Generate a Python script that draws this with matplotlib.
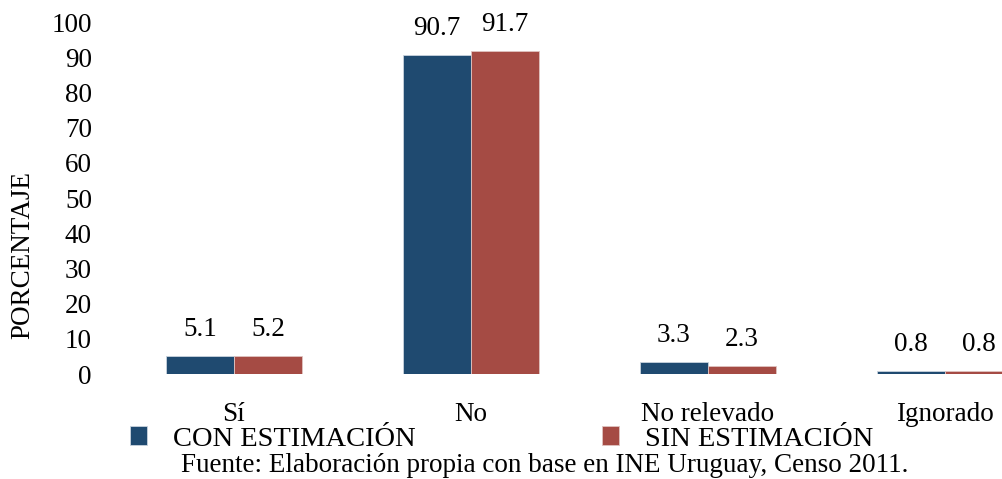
import numpy as np
import matplotlib
matplotlib.use('Agg')
import matplotlib.pyplot as plt

categories = ['Sí', 'No', 'No relevado', 'Ignorado']
conEstimacion = [5.1, 90.7, 3.3, 0.8]
sinEstimacion = [5.2, 91.7, 2.3, 0.8]
seriesNames = ['CON ESTIMACIÓN', 'SIN ESTIMACIÓN']
yTicks = np.arange(0, 101, 10)
fuente = 'Fuente: Elaboración propia con base en INE Uruguay, Censo 2011.'

navy = '#1F4A70'
red = '#A54B44'

plt.rcParams['font.family'] = ['Liberation Serif', 'DejaVu Serif']
plt.rcParams['font.size'] = 19.5

fig = plt.figure(figsize=(10.02, 4.79), dpi=100)
# axes runs past the right edge of the figure, as in the reference
ax = fig.add_axes([115.5/1002, 105/479, 948/1002, 352/479])

x = np.arange(len(categories))
w = 0.287
b1 = ax.bar(x - w/2, conEstimacion, w, color=navy, edgecolor='#c9d3de', linewidth=0.6, label=seriesNames[0])
b2 = ax.bar(x + w/2, sinEstimacion, w, color=red, edgecolor='#e0c4c1', linewidth=0.6, label=seriesNames[1])

for bars, vals in [(b1, conEstimacion), (b2, sinEstimacion)]:
    for rect, v in zip(bars, vals):
        ax.annotate('%.1f' % v, (rect.get_x() + rect.get_width()/2, v),
                    xytext=(0, 10), textcoords='offset points',
                    ha='center', va='bottom')

ax.set_xlim(-0.5, len(categories) - 0.5)
ax.set_ylim(0, 100)
ax.set_yticks(yTicks)
ax.set_xticks(x)
ax.set_xticklabels(categories)
ax.tick_params(axis='both', length=0)
ax.tick_params(axis='x', pad=20)
ax.tick_params(axis='y', pad=17)
for s in ax.spines.values():
    s.set_visible(False)
ax.set_ylabel('PORCENTAJE')
ax.yaxis.set_label_coords(-0.085, 0.338)

fig.legend(handles=[b1, b2], labels=seriesNames, loc='center left',
           bbox_to_anchor=(130/1002, 1 - 439/479), ncol=2, frameon=False,
           handlelength=0.6, handleheight=0.6, handletextpad=0.9,
           columnspacing=6.55, borderaxespad=0, borderpad=0, fontsize=20.5)

fig.text(545/1002, 1 - 466/479, fuente, ha='center', va='center')

fig.savefig('out.png', dpi=100)
